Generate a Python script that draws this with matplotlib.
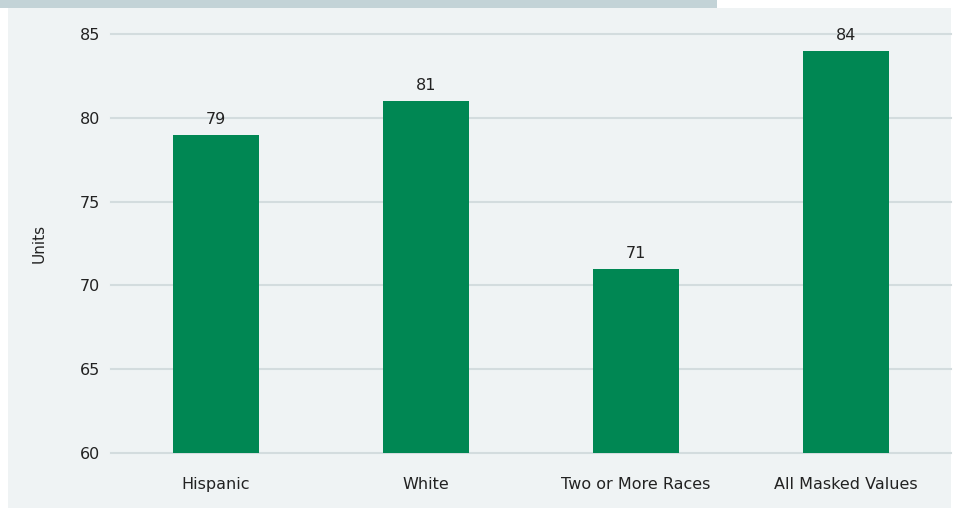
import matplotlib.pyplot as plt
from matplotlib.patches import Rectangle

categories = ["Hispanic", "White", "Two or More Races", "All Masked Values"]
values = [79, 81, 71, 84]
y_ticks = [60, 65, 70, 75, 80, 85]

W, H = 954, 508
fig = plt.figure(figsize=(W / 100, H / 100), dpi=100)
fig.patch.set_facecolor("white")

# panel background and header strip, in pixel units on a background axes
bg = fig.add_axes([0, 0, 1, 1], zorder=-1)
bg.set_xlim(0, W)
bg.set_ylim(H, 0)
bg.axis("off")
bg.add_patch(Rectangle((8, 8), 943, 500, facecolor="#eff3f4", edgecolor="none"))
bg.add_patch(Rectangle((0, 0), 717, 8, facecolor="#c3d3d7", edgecolor="none"))

left, right = 111 / W, 951 / W
bottom, top = 1 - 453 / H, 1 - 34 / H
ax = fig.add_axes([left, bottom, right - left, top - bottom])
ax.set_facecolor("none")

x = range(len(categories))
ax.bar(x, values, width=0.413, color="#008753", zorder=2)
for xi, v in zip(x, values):
    ax.text(xi, v + 0.45, f"{v}", ha="center", va="bottom", fontsize=11.5,
            color="#222222", zorder=3)

ax.set_xlim(-0.5, len(categories) - 0.5)
ax.set_ylim(60, 85)
ax.set_yticks(y_ticks)
ax.set_xticks(list(x))
ax.set_xticklabels(categories)
ax.tick_params(axis="both", length=0, labelsize=11.5, colors="#222222")
ax.tick_params(axis="y", pad=8)
ax.tick_params(axis="x", pad=17)
ax.grid(axis="y", color="#d3dcde", linewidth=1.5, zorder=1)
for gl in ax.get_ygridlines():
    gl.set_clip_on(False)
ax.set_axisbelow(True)
for s in ax.spines.values():
    s.set_visible(False)
ax.set_ylabel("Units", fontsize=11, color="#222222", labelpad=24)

fig.savefig("out.png", dpi=100)
